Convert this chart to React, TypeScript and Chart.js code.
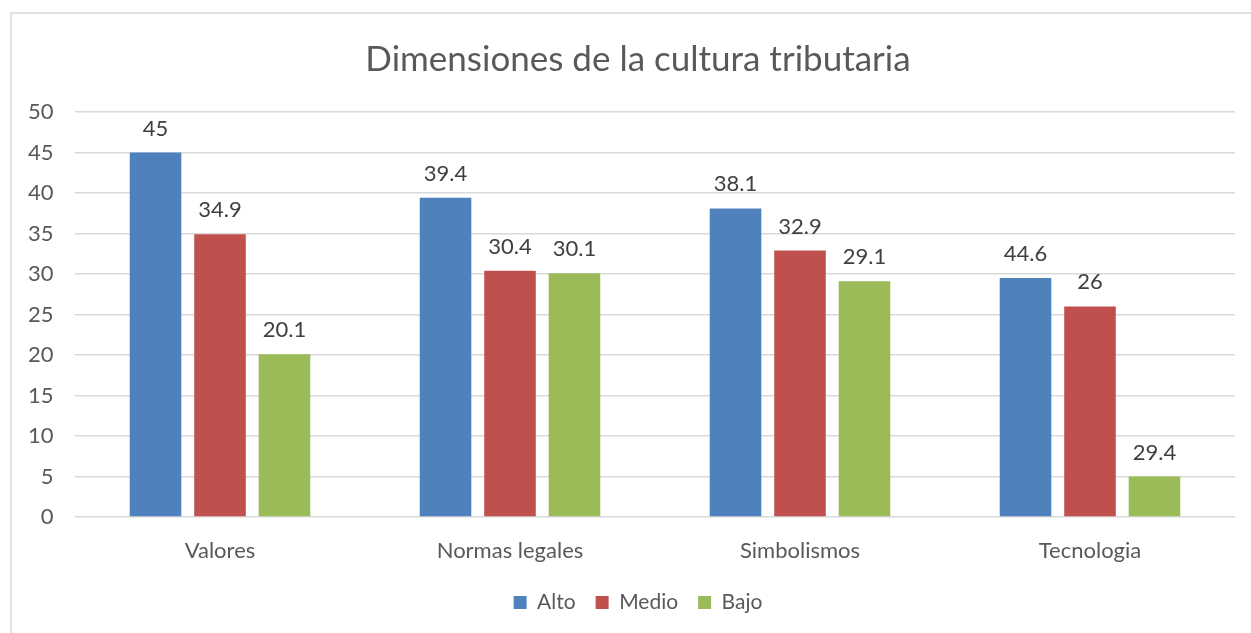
import React, { useEffect, useRef } from "react";
import { Chart, registerables } from "chart.js";

Chart.register(...registerables);

const categories = ["Valores", "Normas legales", "Simbolismos", "Tecnologia"];
const seriesNames = ["Alto", "Medio", "Bajo"];
const alto = [45, 39.4, 38.1, 29.5];
const medio = [34.9, 30.4, 32.9, 26];
const bajo = [20.1, 30.1, 29.1, 5];
const altoLabels = ["45", "39.4", "38.1", "44.6"];
const medioLabels = ["34.9", "30.4", "32.9", "26"];
const bajoLabels = ["20.1", "30.1", "29.1", "29.4"];
const yTicks = [0, 5, 10, 15, 20, 25, 30, 35, 40, 45, 50];

const colors = ["#4F81BD", "#C0504D", "#9BBB59"];
const FONT = "Lato";

const W = 1251;
const H = 633;

const borderPlugin = {
  id: "outerBorder",
  beforeDraw(chart: any) {
    const ctx = chart.ctx;
    ctx.save();
    ctx.fillStyle = "#ffffff";
    ctx.fillRect(0, 0, chart.width, chart.height);
    ctx.strokeStyle = "#D9D9D9";
    ctx.lineWidth = 1.5;
    ctx.beginPath();
    ctx.moveTo(11, chart.height + 2);
    ctx.lineTo(11, 13);
    ctx.lineTo(chart.width + 2, 13);
    ctx.stroke();
    ctx.restore();
  },
};

const labelPlugin = {
  id: "barLabels",
  afterDatasetsDraw(chart: any) {
    const ctx = chart.ctx;
    const all = [altoLabels, medioLabels, bajoLabels];
    ctx.save();
    ctx.font = `22px ${FONT}`;
    ctx.fillStyle = "#404040";
    ctx.textAlign = "center";
    ctx.textBaseline = "middle";
    chart.data.datasets.forEach((_: any, di: number) => {
      const meta = chart.getDatasetMeta(di);
      meta.data.forEach((bar: any, i: number) => {
        ctx.fillText(all[di][i], bar.x, bar.y - 24);
      });
    });
    ctx.restore();
  },
};

export default function App() {
  const ref = useRef<HTMLCanvasElement | null>(null);
  useEffect(() => {
    if (!ref.current) return;
    const chart = new Chart(ref.current, {
      type: "bar",
      data: {
        labels: categories,
        datasets: [alto, medio, bajo].map((d, i) => ({
          label: seriesNames[i],
          data: d,
          backgroundColor: colors[i],
          borderWidth: 0,
          categoryPercentage: 0.667,
          barPercentage: 0.8,
        })),
      },
      options: {
        responsive: false,
        animation: false,
        layout: { padding: { left: 41, right: 16, top: 12, bottom: 10 } },
        plugins: {
          title: {
            display: true,
            text: "Dimensiones de la cultura tributaria",
            color: "#595959",
            font: { family: FONT, size: 35, weight: "normal" },
            padding: { top: 27, bottom: 31 },
          },
          legend: {
            display: true,
            position: "bottom",
            labels: {
              color: "#595959",
              font: { family: FONT, size: 21 },
              boxWidth: 13,
              boxHeight: 13,
              padding: 20,
            },
          },
          tooltip: { enabled: false },
        },
        scales: {
          x: {
            grid: { display: false },
            border: { display: false },
            ticks: {
              color: "#595959",
              font: { family: FONT, size: 22 },
              padding: 13,
            },
            afterFit: (s: any) => {
              s.height = 55;
            },
          },
          y: {
            min: 0,
            max: 50,
            afterBuildTicks: (s: any) => {
              s.ticks = yTicks.map((v) => ({ value: v }));
            },
            grid: { color: "#D9D9D9", lineWidth: 1.5, drawTicks: false },
            border: { display: false },
            ticks: {
              color: "#595959",
              font: { family: FONT, size: 22 },
              mirror: true,
              crossAlign: "far",
              padding: -47,
            },
            afterFit: (s: any) => {
              s.width = 34;
            },
          },
        },
      },
      plugins: [borderPlugin, labelPlugin],
    });
    return () => chart.destroy();
  }, []);
  return (
    <div style={{ position: "fixed", left: 0, top: 0, width: W, height: H, overflow: "hidden", background: "#fff" }}>
      <canvas ref={ref} width={W} height={H} style={{ width: W, height: H, display: "block" }} />
    </div>
  );
}
